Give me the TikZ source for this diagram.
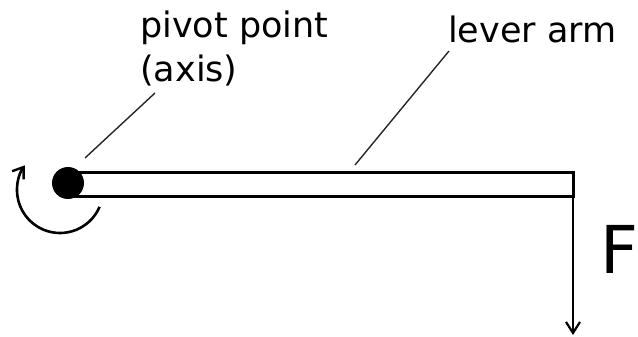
\documentclass[tikz,border=0pt]{standalone}
\usepackage{fontspec}
\setmainfont{DejaVu Sans}
\usetikzlibrary{arrows.meta}
\begin{document}
\begin{tikzpicture}[x=1pt,y=-1pt,
  lbl/.style={inner sep=0pt, anchor=base west, font=\fontsize{35}{44}\selectfont, align=left},
  leader/.style={line width=1.4pt, black!85},
  barstyle/.style={line width=3pt},
  force/.style={line width=2.4pt, -{Straight Barb[length=11pt,width=14pt,line width=2.2pt]}},
  spin/.style={line width=2.6pt, -{Straight Barb[length=10pt,width=14pt,line width=2.4pt]}}]
  \useasboundingbox (0,0) rectangle (638,337);
  % lever bar
  \draw[barstyle] (68,172) rectangle (573,196);
  \coordinate (barend) at (573,172);
  \coordinate (tip) at (573,335);
  % pivot
  \node[circle, fill=black, minimum size=32pt, inner sep=0pt] (pivot) at (68,183) {};
  % force
  \draw[force] (barend) -- (tip);
  \node[inner sep=0pt, anchor=base west, font=\fontsize{66}{66}\selectfont] (F) at (600,273) {F};
  % rotation sense
  \draw[spin] (60,190) ++(-23:43 and -43) arc[start angle=23, end angle=215, radius=43];
  % labels (base anchor sits on the last line)
  \node[lbl] (pivotlbl) at (140,82) {pivot point\\(axis)};
  \node[lbl] (armlbl) at (448,43) {lever arm};
  \coordinate (pivotlead) at (155,93);
  \coordinate (armlead) at (449,51);
  \draw[leader] (85,158) -- (pivotlead);
  \draw[leader] (355,165) -- (armlead);
\end{tikzpicture}
\end{document}
